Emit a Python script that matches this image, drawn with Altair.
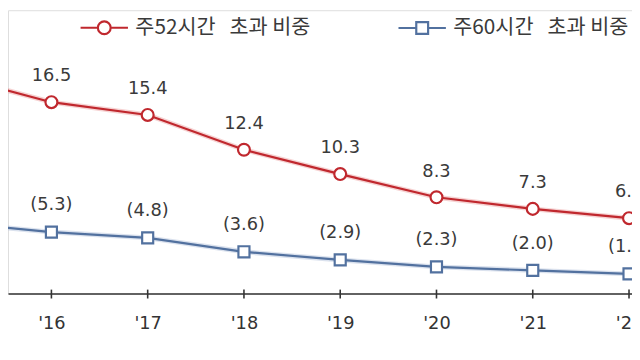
import altair as alt
import pandas as pd

years = [2015, 2016, 2017, 2018, 2019, 2020, 2021, 2022]
over52 = [18.7, 16.5, 15.4, 12.4, 10.3, 8.3, 7.3, 6.5]
over60 = [6.1, 5.3, 4.8, 3.6, 2.9, 2.3, 2.0, 1.7]
labels52 = ["18.7", "16.5", "15.4", "12.4", "10.3", "8.3", "7.3", "6.5"]
labels60 = ["(6.1)", "(5.3)", "(4.8)", "(3.6)", "(2.9)", "(2.3)", "(2.0)", "(1.7)"]
series = ["주52시간\u00a0\u00a0\u00a0초과 비중", "주60시간\u00a0\u00a0\u00a0초과 비중"]
colors = ["#c0282e", "#52719f"]
halos = ["#eea8a8", "#b8c6de"]

KFONT = "Noto Sans CJK KR"
NFONT = "DejaVu Sans"

rows = []
for i, y in enumerate(years):
    rows.append({"year": y, "value": over52[i], "label": labels52[i], "series": series[0]})
    rows.append({"year": y, "value": over60[i], "label": labels60[i], "series": series[1]})
df = pd.DataFrame(rows)

xs = alt.Scale(domain=[2015.549, 2022.031], nice=False, zero=False)
ys = alt.Scale(domain=[0, 24.43], nice=False, zero=False)

x_enc = alt.X("year:Q", scale=xs, axis=alt.Axis(
    values=years[1:], format="d",
    labelExpr="\"'\" + slice(toString(datum.value), 2)",
    title=None, grid=False, ticks=False, domainColor="#333333", domainWidth=1.6,
    labelFont=NFONT, labelFontSize=18, labelColor="#333333", labelPadding=21,
))
y_enc = alt.Y("value:Q", scale=ys, axis=None)

base = alt.Chart(df)

def series_layers(name, color, halo, shape, size, dy):
    d = base.transform_filter(alt.datum.series == name)
    glow = d.mark_line(color=halo, strokeWidth=5, opacity=0.5, clip=True).encode(x=x_enc, y=y_enc)
    line = d.mark_line(color=color, strokeWidth=2.2, clip=True).encode(x=x_enc, y=y_enc)
    pts = d.mark_point(shape=shape, size=size, filled=True, fill="white", stroke=color,
                       strokeWidth=2.2, opacity=1, clip=True).encode(x=x_enc, y=y_enc)
    txt = d.mark_text(dy=dy, font=NFONT, fontSize=18, color="#3a3a3a", clip=True).encode(
        x=x_enc, y=y_enc, text="label:N")
    return [glow, line, pts, txt]

ticks = base.transform_filter(alt.datum.series == series[0]).mark_rule(
    color="#333333", strokeWidth=1.6).encode(
    x=alt.X("year:Q", scale=xs), y=alt.value(283), y2=alt.value(292))

circle_path = "M-1,0L-0.27,0M0.27,0L1,0M-0.27,0A0.27,0.27,0,1,0,0.27,0A0.27,0.27,0,1,0,-0.27,0Z"
square_path = "M-1,0L-0.25,0M0.25,0L1,0M-0.25,-0.25L0.25,-0.25L0.25,0.25L-0.25,0.25Z"

legend_layer = base.mark_point(opacity=0, filled=False).encode(
    x=x_enc, y=y_enc,
    color=alt.Color("series:N", scale=alt.Scale(domain=series, range=colors),
                    legend=alt.Legend(
                        title=None, orient="none", direction="horizontal",
                        legendX=72, legendY=-8, symbolSize=2304, symbolStrokeWidth=2.2,
                        symbolOpacity=1, symbolFillColor="white",
                        labelFont=KFONT, labelFontSize=21, labelColor="#3a3a3a",
                        labelLimit=400, labelOffset=6, columnPadding=84, padding=0)),
    shape=alt.Shape("series:N", scale=alt.Scale(domain=series, range=[circle_path, square_path])),
)

layers = (series_layers(series[0], colors[0], halos[0], "circle", 145, -26)
          + series_layers(series[1], colors[1], halos[1], "square", 125, -27)
          + [ticks, legend_layer])

chart = alt.layer(*layers).properties(width=632, height=287).configure_view(
    stroke=None).configure(padding={"left": 0, "top": 0, "right": 0, "bottom": 60},
                           autosize=alt.AutoSizeParams(type="none"), background="white")

chart.save("out.html", embed_options={"renderer": "svg", "actions": False})
